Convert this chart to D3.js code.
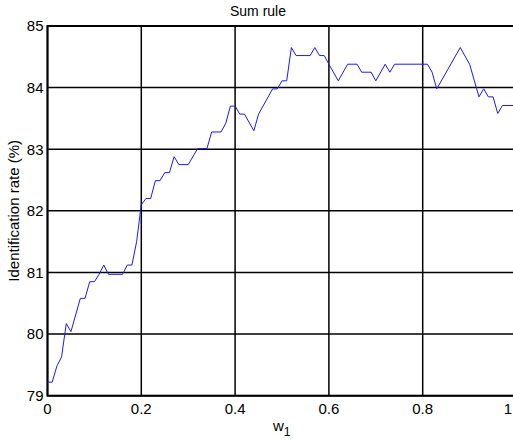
<!DOCTYPE html>
<html lang="en">
<head>
<meta charset="UTF-8">
<title>Sum rule</title>
<script src="https://cdn.jsdelivr.net/npm/d3@7"></script>
<style>
  body { margin: 0; background: #fff; }
  svg text { font-family: "Liberation Sans", Arial, Helvetica, sans-serif; fill: #000; }
</style>
</head>
<body>
<div id="chart"></div>
<script>
// vertices of the curve
const weights = [0.00, 0.01, 0.02, 0.03, 0.04, 0.05, 0.07, 0.08, 0.09, 0.10,
    0.11, 0.12, 0.13, 0.16, 0.17, 0.18, 0.19, 0.20, 0.21, 0.22,
    0.23, 0.24, 0.25, 0.26, 0.27, 0.28, 0.30, 0.32, 0.34, 0.35,
    0.37, 0.38, 0.39, 0.40, 0.41, 0.42, 0.44, 0.45, 0.48, 0.49,
    0.50, 0.51, 0.52, 0.53, 0.56, 0.57, 0.58, 0.59, 0.60, 0.62,
    0.64, 0.66, 0.67, 0.69, 0.70, 0.72, 0.73, 0.74, 0.81, 0.82,
    0.83, 0.88, 0.90, 0.92, 0.93, 0.94, 0.95, 0.96, 0.97, 1.00];
const rates = [79.22, 79.22, 79.48, 79.63, 80.17, 80.04, 80.58, 80.58, 80.85, 80.85,
    80.97, 81.12, 80.97, 80.97, 81.12, 81.12, 81.50, 82.10, 82.20, 82.20,
    82.49, 82.49, 82.62, 82.62, 82.88, 82.75, 82.75, 83.01, 83.01, 83.28,
    83.28, 83.42, 83.70, 83.70, 83.57, 83.57, 83.30, 83.57, 83.98, 83.98,
    84.11, 84.11, 84.65, 84.52, 84.52, 84.65, 84.52, 84.52, 84.38, 84.11,
    84.38, 84.38, 84.25, 84.25, 84.11, 84.38, 84.25, 84.38, 84.38, 84.25,
    83.98, 84.65, 84.38, 83.85, 83.98, 83.85, 83.85, 83.58, 83.71, 83.71];
const xTicks = [0, 0.2, 0.4, 0.6, 0.8, 1];
const yTicks = [79, 80, 81, 82, 83, 84, 85];

const width = 513, height = 441;
const plot = {left: 47.5, right: 516.5, top: 26, bottom: 395.7};

const svg = d3.select("#chart").append("svg")
    .attr("width", width)
    .attr("height", height);

const x = d3.scaleLinear().domain([0, 1]).range([plot.left, plot.right]);
const y = d3.scaleLinear().domain([79, 85]).range([plot.bottom, plot.top]);

// grid
svg.append("g").selectAll("line")
    .data(xTicks)
    .join("line")
    .attr("x1", d => x(d)).attr("x2", d => x(d))
    .attr("y1", plot.top).attr("y2", plot.bottom)
    .attr("stroke", "#000").attr("stroke-width", 1.5);
svg.append("g").selectAll("line")
    .data(yTicks)
    .join("line")
    .attr("x1", plot.left).attr("x2", plot.right)
    .attr("y1", d => y(d)).attr("y2", d => y(d))
    .attr("stroke", "#000").attr("stroke-width", 1.5);

// frame
svg.append("rect")
    .attr("x", plot.left).attr("y", plot.top)
    .attr("width", plot.right - plot.left)
    .attr("height", plot.bottom - plot.top)
    .attr("fill", "none")
    .attr("stroke", "#000").attr("stroke-width", 2);

// tick labels
svg.append("g").selectAll("text")
    .data(yTicks)
    .join("text")
    .attr("x", plot.left - 4)
    .attr("y", d => y(d))
    .attr("dy", "0.36em")
    .attr("text-anchor", "end")
    .style("font-size", "15px")
    .text(d => d);
// the last label sits on the window edge, keep it inside
svg.append("g").selectAll("text")
    .data(xTicks)
    .join("text")
    .attr("x", d => d === 1 ? width - 1 : x(d))
    .attr("y", plot.bottom + 18)
    .attr("text-anchor", d => d === 1 ? "end" : "middle")
    .style("font-size", "15px")
    .text(d => d);

// curve
const line = d3.line()
    .x((d, i) => x(weights[i]))
    .y(d => y(d));
svg.append("path")
    .datum(rates)
    .attr("d", line)
    .attr("fill", "none")
    .attr("stroke", "#1a1aff")
    .attr("stroke-width", 1);

// title and axis labels
svg.append("text")
    .attr("x", 258).attr("y", 16)
    .attr("text-anchor", "middle")
    .style("font-size", "14px")
    .text("Sum rule");

svg.append("text")
    .attr("transform", `translate(19,${(plot.top + plot.bottom) / 2}) rotate(-90)`)
    .attr("text-anchor", "middle")
    .style("font-size", "15px")
    .text("Identification rate (%)");

const xl = svg.append("text")
    .attr("x", 273).attr("y", 431)
    .style("font-size", "15px");
xl.append("tspan").text("w");
xl.append("tspan").attr("dy", 5).style("font-size", "12px").text("1");
</script>
</body>
</html>
